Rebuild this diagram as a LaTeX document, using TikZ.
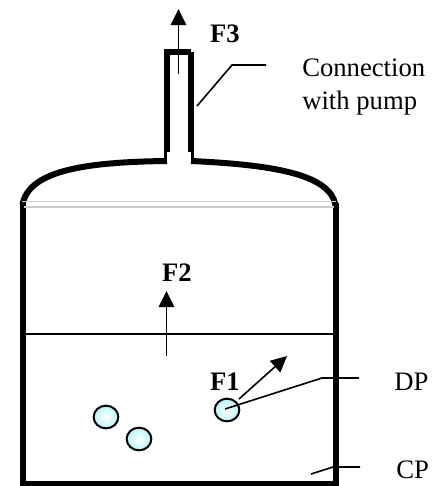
\documentclass[tikz,border=0pt]{standalone}
\usepackage{fontspec}
\usepackage{tikz}
\usetikzlibrary{arrows.meta,shapes.geometric}
\setmainfont{Liberation Serif}
\definecolor{dropfill}{RGB}{185,245,250}
\tikzset{
	wall/.style={line width=4.5pt,line cap=butt,line join=miter},
	neck/.style={line width=2.2pt,line cap=butt},
	thinline/.style={line width=1.2pt},
	force/.style={line width=1.2pt,-{Triangle[width=11.5pt,length=12pt]}},
	drop/.style={ellipse,draw=black,line width=1.5pt,minimum width=18.5pt,minimum height=17pt,inner sep=0pt,inner color=white,outer color=dropfill},
	txt/.style={font=\fontsize{20}{24}\selectfont,inner sep=0pt,anchor=base west},
	bold/.style={font=\fontsize{20}{24}\selectfont\bfseries,inner sep=0pt,anchor=base}
}
\begin{document}
\begin{tikzpicture}[x=0.75pt,y=-0.75pt]
	\useasboundingbox (0,0) rectangle (443,486);
	
	% The vessel
	\draw[wall] (22.5,203) -- (22.5,484) -- (335.5,484) -- (335.5,203);
	\draw[wall] (22.5,205) .. controls (28,172) and (80,162) .. (167,161);
	\draw[wall] (335.5,205) .. controls (330,176) and (280,165) .. (191,161);
	\draw[neck] (165.5,163.5) -- (165.5,150);
	\draw[neck] (192.5,163.5) -- (192.5,150);
	\draw[wall] (166.5,152) -- (166.5,51.5) -- (191,51.5);
	\draw[wall] (191,152) -- (191,52);
	\draw[black!20,line width=0.8pt] (22,201.5) -- (336,201.5);
	\draw[black!20,line width=0.8pt] (24,207) -- (334,207);
	
	% The level of the liquid
	\coordinate (levelL) at (25,334);
	\coordinate (levelR) at (333,334);
	\draw[thinline] (levelL) -- (levelR);
	
	% The drops
	\node[drop] (drop1) at (106,417) {};
	\node[drop] (drop2) at (139,439) {};
	\node[drop] (drop3) at (227,410) {};
	
	% The fluxes
	\coordinate (f3start) at (178.5,74);
	\coordinate (f3end) at (178.5,9);
	\coordinate (f2start) at (166.5,356);
	\coordinate (f2end) at (166.5,291);
	\coordinate (f1start) at (239,399);
	\coordinate (f1end) at (287,356);
	\draw[force] (f3start) -- (f3end);
	\draw[force] (f2start) -- (f2end);
	\draw[force] (f1start) -- (f1end);
	\node[bold] (F3) at (225,42) {F3};
	\node[bold] (F2) at (177,281) {F2};
	\node[bold] (F1) at (225,390) {F1};
	
	% The labels
	\node[txt] (pump) at (302,76) {Connection};
	\node[txt] (pump2) at (302,109) {with pump};
	\node[txt] (DP) at (394,390) {DP};
	\node[txt] (CP) at (396,478) {CP};
	
	\coordinate (pumpA) at (197,106);
	\coordinate (pumpB) at (232,65);
	\coordinate (pumpC) at (266,65);
	\draw[thinline] (pumpA) -- (pumpB) -- (pumpC);
	\coordinate (dpB) at (322,378);
	\coordinate (dpC) at (359,378);
	\draw[thinline] (drop3.center) ++(-2,-1) -- (dpB) -- (dpC);
	\coordinate (cpA) at (311,474);
	\coordinate (cpB) at (333,467);
	\coordinate (cpC) at (360,467);
	\draw[thinline] (cpA) -- (cpB) -- (cpC);
\end{tikzpicture}
\end{document}
